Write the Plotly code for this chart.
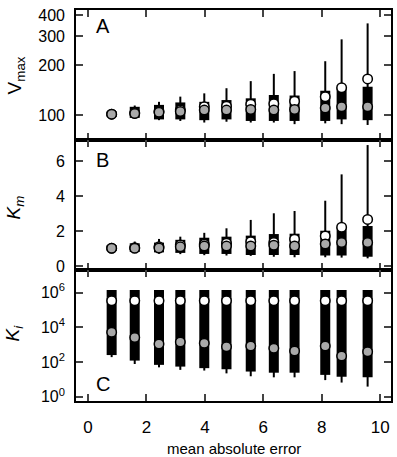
import plotly.graph_objects as go
import numpy as np

x = [0.81, 1.6, 2.43, 3.16, 3.98, 4.74, 5.57, 6.36, 7.07, 8.12, 8.68, 9.57]

# Panel A: Vmax
vmax_grey = [101, 102, 104, 105, 107, 107, 108, 107, 108, 110, 112, 112]
vmax_white = [101, 103, 105, 107, 112, 113, 116, 117, 121, 129, 146, 165]
vmax_box_lo = [97, 96, 94, 94, 93, 94, 92, 92, 92, 92, 94, 93]
vmax_box_hi = [105, 112, 115, 119, 120, 123, 126, 132, 131, 140, 146, 148]
vmax_wh_lo = [96, 95, 93, 92, 90, 91, 90, 90, 88, 89, 88, 87]
vmax_wh_hi = [106, 114, 120, 129, 135, 145, 160, 177, 184, 211, 286, 357]

# Panel B: Km
km_grey = [1.01, 1.01, 1.03, 1.10, 1.15, 1.15, 1.15, 1.19, 1.15, 1.26, 1.34, 1.34]
km_white = [1.02, 1.05, 1.10, 1.20, 1.25, 1.30, 1.39, 1.34, 1.53, 1.72, 2.22, 2.67]
km_box_lo = [0.85, 0.8, 0.78, 0.75, 0.69, 0.69, 0.63, 0.63, 0.63, 0.6, 0.6, 0.53]
km_box_hi = [1.2, 1.3, 1.34, 1.5, 1.62, 1.68, 1.74, 1.83, 1.85, 2.02, 2.22, 2.29]
km_wh_lo = [0.8, 0.75, 0.7, 0.68, 0.62, 0.6, 0.58, 0.53, 0.5, 0.5, 0.48, 0.44]
km_wh_hi = [1.25, 1.4, 1.55, 1.68, 1.9, 2.16, 2.64, 3.02, 3.15, 3.74, 5.25, 6.93]

# Panel C: Ki
ki_grey = [5100, 2600, 1100, 1400, 1200, 760, 830, 620, 430, 830, 220, 390]
ki_white = [3.4e5] * 12
ki_box_lo = [250, 120, 68, 54, 44, 38, 28, 24, 24, 18, 14, 13]
ki_box_hi = [1.4e6] * 12
ki_wh_lo = [190, 76, 49, 35, 32, 22, 15, 13, 13, 9, 6.5, 3.8]
ki_wh_hi = [1.4e6] * 12

x_ticks = [0, 2, 4, 6, 8, 10]

W, H = 397, 457
ML, MR, MT, MB = 76, 4, 10, 56
ph = H - MT - MB


def dom(top_px, bot_px):
    return [(H - MB - bot_px) / ph, (H - MB - top_px) / ph]


fig = go.Figure()
GREY = "#a9a9a9"


def segs(xs, lo, hi):
    xx, yy = [], []
    for a, l, h in zip(xs, lo, hi):
        xx += [a, a, None]
        yy += [l, h, None]
    return xx, yy


panels = [
    ("y", vmax_grey, vmax_white, vmax_box_lo, vmax_box_hi, vmax_wh_lo, vmax_wh_hi),
    ("y2", km_grey, km_white, km_box_lo, km_box_hi, km_wh_lo, km_wh_hi),
    ("y3", ki_grey, ki_white, ki_box_lo, ki_box_hi, ki_wh_lo, ki_wh_hi),
]
xaxes = ["x", "x2", "x3"]
for (ya, g, w, bl, bh, wl, wh), xa in zip(panels, xaxes):
    xx, yy = segs(x, wl, wh)
    fig.add_trace(go.Scatter(x=xx, y=yy, mode="lines", line=dict(color="black", width=2),
                             xaxis=xa, yaxis=ya, showlegend=False, hoverinfo="skip"))
    xx, yy = segs(x, bl, bh)
    fig.add_trace(go.Scatter(x=xx, y=yy, mode="lines", line=dict(color="black", width=10),
                             xaxis=xa, yaxis=ya, showlegend=False, hoverinfo="skip"))
    fig.add_trace(go.Scatter(x=x, y=w, mode="markers",
                             marker=dict(size=9.5, color="white", line=dict(color="black", width=1.5)),
                             xaxis=xa, yaxis=ya, showlegend=False))
    fig.add_trace(go.Scatter(x=x, y=g, mode="markers",
                             marker=dict(size=9.5, color=GREY, line=dict(color="black", width=1.5)),
                             xaxis=xa, yaxis=ya, showlegend=False))

tickfont = dict(family="Liberation Sans, Arial", size=16, color="black")
common_x = dict(range=[-0.41, 10.37], tickvals=x_ticks, ticks="inside", ticklen=7, tickwidth=1.5,
                showline=True, linewidth=1.6, linecolor="black", mirror="ticks",
                showgrid=False, zeroline=False)
common_y = dict(ticks="inside", ticklen=7, tickwidth=1.5, showline=True, linewidth=1.6,
                linecolor="black", mirror="ticks", showgrid=False, zeroline=False,
                tickfont=tickfont, ticklabelstandoff=6)

fig.update_layout(
    width=W, height=H, margin=dict(l=ML, r=MR, t=MT, b=MB),
    paper_bgcolor="white", plot_bgcolor="white",
    xaxis=dict(common_x, anchor="y", showticklabels=False),
    xaxis2=dict(common_x, anchor="y2", showticklabels=False, matches="x"),
    xaxis3=dict(common_x, anchor="y3", showticklabels=True, matches="x",
                tickfont=dict(family="Liberation Sans, Arial", size=17, color="black"),
                ticklabelstandoff=10),
    yaxis=dict(common_y, domain=dom(10, 140), type="log", range=[np.log10(70.6), np.log10(430)],
               tickvals=[100, 200, 300, 400], ticktext=["100", "200", "300", "400"]),
    yaxis2=dict(common_y, domain=dom(140, 270), range=[-0.23, 7.22], tickvals=[0, 2, 4, 6]),
    yaxis3=dict(common_y, domain=dom(270, 401), type="log", range=[-0.25, 7.30],
                tickvals=[1, 100, 1e4, 1e6],
                ticktext=["10<sup>0</sup>", "10<sup>2</sup>", "10<sup>4</sup>", "10<sup>6</sup>"]),
)


def px_x(p):
    return (p - ML) / (W - ML - MR)


def px_y(p):
    return (H - MB - p) / ph


annots = [
    dict(text="V<sub>max</sub>", x=px_x(16), y=px_y(75), textangle=-90, size=19),
    dict(text="<i>K<sub>m</sub></i>", x=px_x(15), y=px_y(207), textangle=-90, size=19),
    dict(text="<i>K<sub>i</sub></i>", x=px_x(14), y=px_y(333), textangle=-90, size=19),
    dict(text="A", x=px_x(103), y=px_y(26), textangle=0, size=20),
    dict(text="B", x=px_x(103), y=px_y(160), textangle=0, size=20),
    dict(text="C", x=px_x(103), y=px_y(384), textangle=0, size=20),
    dict(text="mean absolute error", x=px_x(234.5), y=px_y(449), textangle=0, size=15),
]
for a in annots:
    fig.add_annotation(text=a["text"], x=a["x"], y=a["y"], xref="paper", yref="paper",
                       showarrow=False, textangle=a["textangle"], xanchor="center", yanchor="middle",
                       font=dict(family="Liberation Sans, Arial", size=a["size"], color="black"))

fig.write_html("out.html")
